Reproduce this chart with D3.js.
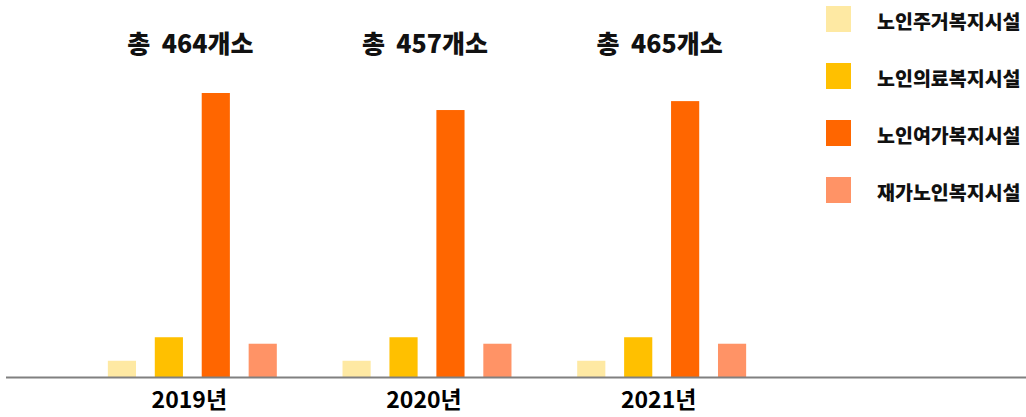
<!DOCTYPE html>
<html>
<head>
<meta charset="utf-8">
<script src="https://cdn.jsdelivr.net/npm/d3@7"></script>
<style>
  html, body { margin: 0; padding: 0; background: #ffffff; }
  svg { display: block; font-family: "Noto Sans CJK KR", "Noto Sans", sans-serif; }
</style>
</head>
<body>
<svg id="chart" width="1026" height="417"></svg>
<script>
const years = ["2019년", "2020년", "2021년"];
const totals = [464, 457, 465];
const seriesNames = ["노인주거복지시설", "노인의료복지시설", "노인여가복지시설", "재가노인복지시설"];
const housing = [20, 20, 20];
const medical = [49, 49, 49];
const leisure = [350, 329, 340];
const homeCare = [41, 41, 41];
const colors = ["#FEE9A3", "#FFC000", "#FF6600", "#FF9366"];

const seriesValues = [housing, medical, leisure, homeCare];
const data = years.map((y, i) => ({
  year: y,
  total: totals[i],
  values: seriesNames.map((s, k) => ({ key: s, value: seriesValues[k][i], color: colors[k] }))
}));

const svg = d3.select("#chart");
const baseline = 377;

const x0 = d3.scaleBand().domain(years).range([75, 779]).padding(0);
const x1 = d3.scaleBand().domain(seriesNames).range([0, x0.bandwidth()])
  .paddingInner(0.4).paddingOuter(0.7);
const y = d3.scaleLinear().domain([0, 350]).range([baseline, 93]);

// bars
const groups = svg.append("g").selectAll("g").data(data).join("g")
  .attr("transform", d => `translate(${x0(d.year)},0)`);

groups.selectAll("rect").data(d => d.values).join("rect")
  .attr("x", d => x1(d.key))
  .attr("width", x1.bandwidth())
  .attr("y", d => y(d.value))
  .attr("height", d => y(0) - y(d.value))
  .attr("fill", d => d.color);

// baseline axis
const xAxis = d3.axisBottom(x0).tickSize(0).tickPadding(15);
const axisG = svg.append("g").attr("transform", `translate(-3,${baseline})`).call(xAxis);
axisG.select(".domain").remove();
axisG.selectAll("text")
  .attr("font-size", 23)
  .attr("font-weight", 700)
  .attr("fill", "#000")
  .attr("font-family", "'Noto Sans CJK KR', sans-serif");

svg.append("line")
  .attr("x1", 6).attr("x2", 1026)
  .attr("y1", baseline + 0.5).attr("y2", baseline + 0.5)
  .attr("stroke", "#808080").attr("stroke-width", 2);

// totals above groups
svg.append("g").selectAll("text").data(data).join("text")
  .attr("x", d => x0(d.year) + x0.bandwidth() / 2 - 2)
  .attr("y", 42)
  .attr("text-anchor", "middle")
  .attr("dominant-baseline", "central")
  .attr("font-size", 25)
  .attr("font-weight", 900)
  .attr("fill", "#111")
  .attr("xml:space", "preserve")
  .style("white-space", "pre")
  .text(d => `총  ${d.total}개소`);

// legend
const legend = svg.append("g").selectAll("g").data(seriesNames).join("g")
  .attr("transform", (d, i) => `translate(826,${6 + i * 57})`);
legend.append("rect")
  .attr("width", 25).attr("height", 26)
  .attr("fill", (d, i) => colors[i]);
legend.append("text")
  .attr("x", 51).attr("y", 14)
  .attr("dominant-baseline", "central")
  .attr("font-size", 19.5)
  .attr("font-weight", 900)
  .attr("fill", "#111")
  .text(d => d);
</script>
</body>
</html>
